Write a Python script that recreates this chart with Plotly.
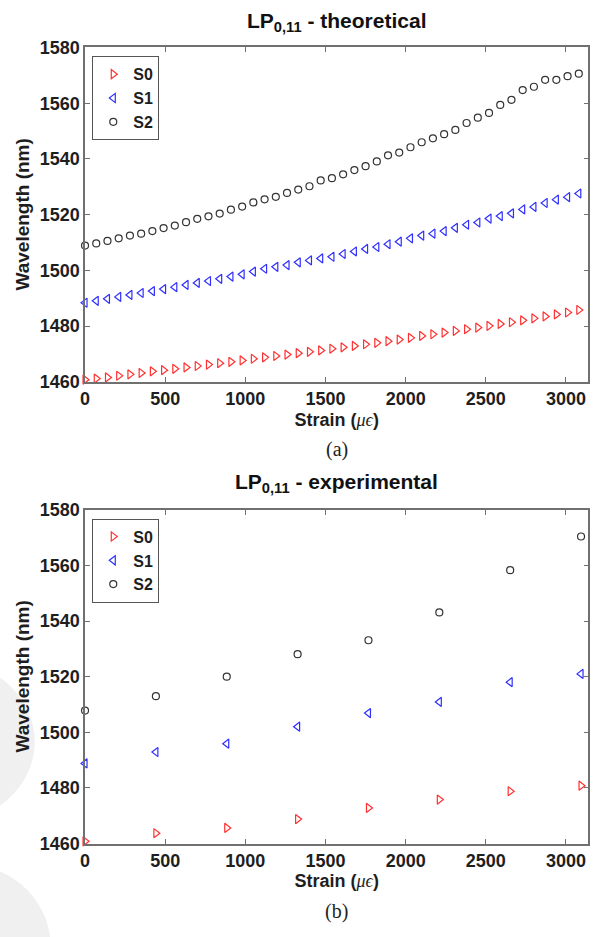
import plotly.graph_objects as go

# ---- data -------------------------------------------------------------
strain_theory = [0, 70, 140, 210, 280, 350, 420, 490, 560, 630, 700, 770, 840,
                 910, 980, 1050, 1120, 1190, 1260, 1330, 1400, 1470, 1540, 1610,
                 1680, 1750, 1820, 1890, 1960, 2030, 2100, 2170, 2240, 2310, 2380,
                 2450, 2520, 2590, 2660, 2730, 2800, 2870, 2940, 3010, 3080]

s0_theory = [1460.8, 1461.2, 1461.6, 1462.2, 1462.7, 1463.2, 1463.8, 1464.2, 1464.7, 1465.2,
             1465.7, 1466.2, 1466.7, 1467.2, 1467.7, 1468.3, 1468.8, 1469.3, 1469.8, 1470.3,
             1470.8, 1471.3, 1471.9, 1472.4, 1472.9, 1473.5, 1474.0, 1474.6, 1475.2, 1475.8,
             1476.5, 1477.1, 1477.7, 1478.3, 1478.9, 1479.5, 1480.1, 1480.8, 1481.4, 1482.1,
             1482.8, 1483.5, 1484.2, 1484.9, 1485.8]
s1_theory = [1488.4, 1489.1, 1489.8, 1490.5, 1491.2, 1491.9, 1492.6, 1493.3, 1494.0, 1494.8,
             1495.5, 1496.2, 1497.0, 1497.8, 1498.6, 1499.6, 1500.6, 1501.3, 1501.9, 1502.9,
             1503.6, 1504.3, 1504.9, 1505.9, 1506.8, 1507.7, 1508.4, 1509.4, 1510.3, 1511.5,
             1512.5, 1513.2, 1514.1, 1515.3, 1516.4, 1517.2, 1518.6, 1519.5, 1520.5, 1521.9,
             1522.8, 1524.2, 1525.4, 1526.3, 1527.6]
s2_theory = [1508.9, 1509.7, 1510.6, 1511.5, 1512.5, 1513.2, 1514.1, 1515.2, 1516.1, 1517.3,
             1518.5, 1519.4, 1520.4, 1521.8, 1522.9, 1524.4, 1525.5, 1526.4, 1527.8, 1529.0,
             1530.2, 1532.3, 1533.1, 1534.5, 1536.0, 1537.4, 1539.1, 1541.3, 1542.3, 1544.2,
             1546.0, 1547.4, 1548.9, 1550.4, 1552.9, 1554.8, 1556.5, 1559.4, 1561.2, 1564.7,
             1565.9, 1568.4, 1568.4, 1569.7, 1570.6]

strain_exp = [0, 442, 884, 1326, 1768, 2210, 2652, 3094]
s0_exp = [1460.8, 1463.7, 1465.6, 1468.8, 1472.8, 1475.8, 1478.8, 1480.8]
s1_exp = [1488.8, 1492.9, 1495.9, 1502.0, 1506.9, 1510.9, 1518.0, 1521.0]
s2_exp = [1507.8, 1513.0, 1520.0, 1528.1, 1533.1, 1543.1, 1558.3, 1570.4]

series_names = ["S0", "S1", "S2"]
x_ticks = [0, 500, 1000, 1500, 2000, 2500, 3000]
y_ticks = [1460, 1480, 1500, 1520, 1540, 1560, 1580]
panel_titles = ["<b>LP<sub>0,11</sub> - theoretical</b>",
                "<b>LP<sub>0,11</sub> - experimental</b>"]
panel_tags = ["(a)", "(b)"]

# ---- styling ----------------------------------------------------------
W, H = 602, 937
SANS = "Liberation Sans, Arial, sans-serif"
SERIF = "Liberation Serif, Times New Roman, serif"
AXIS_GREY = "#707070"
INK = "#1e1e1e"
styles = [
    dict(symbol="triangle-right-open", color="#ff3030", size=8),
    dict(symbol="triangle-left-open", color="#2f2fff", size=8),
    dict(symbol="circle-open", color="#333333", size=7),
]


def px_x(p):
    return p / W


def px_y(p):
    return 1 - p / H


# plot-area boxes in pixels: (left, right, top, bottom)
boxes = [(80.7, 588.3, 38.3, 380.0), (80.7, 588.3, 510.7, 851.7)]
title_offsets = [41.5, 43.0]

fig = go.Figure()

panels = [
    (strain_theory, [s0_theory, s1_theory, s2_theory]),
    (strain_exp, [s0_exp, s1_exp, s2_exp]),
]

for k, (xs, ys_list) in enumerate(panels):
    xa = "x" if k == 0 else "x2"
    ya = "y" if k == 0 else "y2"
    leg = "legend" if k == 0 else "legend2"
    for name, ys, st in zip(series_names, ys_list, styles):
        fig.add_trace(go.Scatter(
            x=xs, y=ys, mode="markers", name="<b>%s</b>" % name,
            xaxis=xa, yaxis=ya, legend=leg, cliponaxis=False,
            marker=dict(symbol=st["symbol"], size=st["size"], color=st["color"],
                        line=dict(width=1.2, color=st["color"])),
        ))

tick_font = dict(family=SANS, size=18, color=INK)
x_title_font = dict(family=SANS, size=18, color=INK)
y_title_font = dict(family=SANS, size=19, color=INK)
strain_title = ('<b>Strain (</b><span style="font-family:' + SERIF +
                '"><i>μϵ</i></span><b>)</b>')

layout = dict(
    width=W, height=H, autosize=False,
    margin=dict(l=0, r=0, t=0, b=0),
    paper_bgcolor="white", plot_bgcolor="white",
    font=dict(family=SANS, color=INK),
    annotations=[],
    shapes=[
        # faint grey marks along the left page edge
        dict(type="circle", xref="paper", yref="paper", layer="below",
             x0=px_x(-150), x1=px_x(30), y0=px_y(830), y1=px_y(665),
             fillcolor="#f0f0f0", line=dict(width=0)),
        dict(type="circle", xref="paper", yref="paper", layer="below",
             x0=px_x(-120), x1=px_x(46), y0=px_y(1040), y1=px_y(874),
             fillcolor="#f0f0f0", line=dict(width=0)),
    ],
)

for k, (l, r, t, b) in enumerate(boxes):
    sx = "" if k == 0 else "2"
    common = dict(
        showgrid=False, zeroline=False, showline=True, linecolor=AXIS_GREY,
        linewidth=1.5, mirror="ticks", ticks="inside", ticklen=5,
        tickwidth=1, tickcolor=AXIS_GREY, tickfont=tick_font,
    )
    layout["xaxis" + sx] = dict(
        common, domain=[px_x(l), px_x(r)], range=[0, 3140],
        tickvals=x_ticks, ticktext=["<b>%d</b>" % v for v in x_ticks],
        anchor="y" + sx,
        title=dict(text=strain_title, font=x_title_font, standoff=5),
    )
    layout["yaxis" + sx] = dict(
        common, domain=[px_y(b), px_y(t)], range=[1460, 1580],
        tickvals=y_ticks, ticktext=["<b>%d</b>" % v for v in y_ticks],
        anchor="x" + sx,
    )
    layout["legend" + ("" if k == 0 else "2")] = dict(
        x=px_x(88), y=px_y(t + 9), xanchor="left", yanchor="top",
        bgcolor="white", bordercolor="#555555", borderwidth=1,
        font=dict(family=SANS, size=16, color=INK),
        itemwidth=30, tracegroupgap=0,
    )
    # y-axis title
    layout["annotations"].append(dict(
        text="<b>Wavelength (nm)</b>", x=px_x(18), y=px_y((t + b) / 2),
        xref="paper", yref="paper", xanchor="center", yanchor="middle",
        textangle=-90, showarrow=False, font=y_title_font,
    ))
    # panel title
    layout["annotations"].append(dict(
        text=panel_titles[k], x=px_x((l + r) / 2), y=px_y(t - title_offsets[k]),
        xref="paper", yref="paper", xanchor="center", yanchor="top",
        showarrow=False, font=dict(family=SANS, size=21, color="#111111"),
    ))
    # panel tag below the axis title
    layout["annotations"].append(dict(
        text=panel_tags[k], x=px_x((l + r) / 2), y=px_y(b + 69),
        xref="paper", yref="paper", xanchor="center", yanchor="middle",
        showarrow=False, font=dict(family=SERIF, size=20, color=INK),
    ))

fig.update_layout(**layout)
fig.write_html("out.html")
